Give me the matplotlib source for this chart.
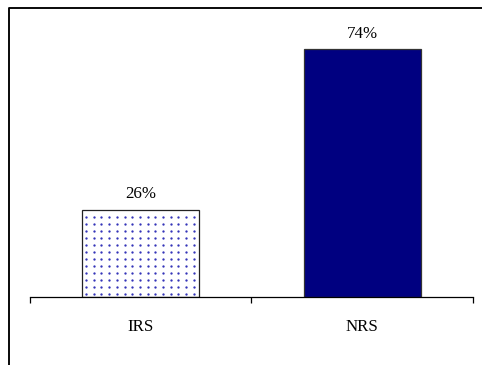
import numpy as np
import matplotlib.pyplot as plt
from matplotlib.lines import Line2D
from matplotlib.transforms import IdentityTransform

categories = ["IRS", "NRS"]
shares = [26, 74]

plt.rcParams["font.family"] = ["Liberation Serif", "DejaVu Serif"]

fig = plt.figure(figsize=(483 / 90, 365 / 90), dpi=90)
ax = fig.add_axes([30 / 483, 68 / 365, 443 / 483, 268 / 365])

x = list(range(len(categories)))

# IRS: white bar with a blue dot grid, NRS: solid navy
irs = ax.bar(x[0], shares[0], width=0.53, color="white", edgecolor="#222222",
             linewidth=1.0, zorder=2)[0]
ax.bar(x[1], shares[1], width=0.53, color="#000080", edgecolor="#333333",
       linewidth=1.0, zorder=2)

for xi, v in zip(x, shares):
    ax.annotate(f"{v}%", (xi, v), xytext=(0, 6), textcoords="offset points",
                ha="center", va="bottom", fontsize=13.5)

ax.set_xlim(-0.5, 1.5)
ax.set_ylim(0, 80)
ax.set_yticks([])
for side in ("left", "right", "top"):
    ax.spines[side].set_visible(False)
ax.spines["bottom"].set_linewidth(1.0)

ax.set_xticks(x)
ax.set_xticklabels(categories, fontsize=13.5)
ax.set_xticks([-0.5, 0.5, 1.5], minor=True)
ax.tick_params(axis="x", which="major", length=0, pad=17.5)
ax.tick_params(axis="x", which="minor", length=4.5, width=1.0, direction="out")

# dot texture inside the IRS bar, laid out in pixels
fig.canvas.draw()
bb = irs.get_window_extent()
gx, gy = np.meshgrid(np.arange(bb.x0 + 4, bb.x1 - 2, 7.7),
                     np.arange(bb.y0 + 3, bb.y1 - 2, 7))
ax.scatter(gx.ravel(), gy.ravel(), s=3.5, color="#3434b8", linewidths=0,
           transform=IdentityTransform(), zorder=3, clip_on=False)

# frame around the figure, open at right and bottom
fig.add_artist(Line2D([9 / 483, 9 / 483, 1.0], [0.0, 1 - 8 / 365, 1 - 8 / 365],
                      transform=fig.transFigure, color="black", linewidth=1.5))

fig.savefig("out.png", dpi=90)
